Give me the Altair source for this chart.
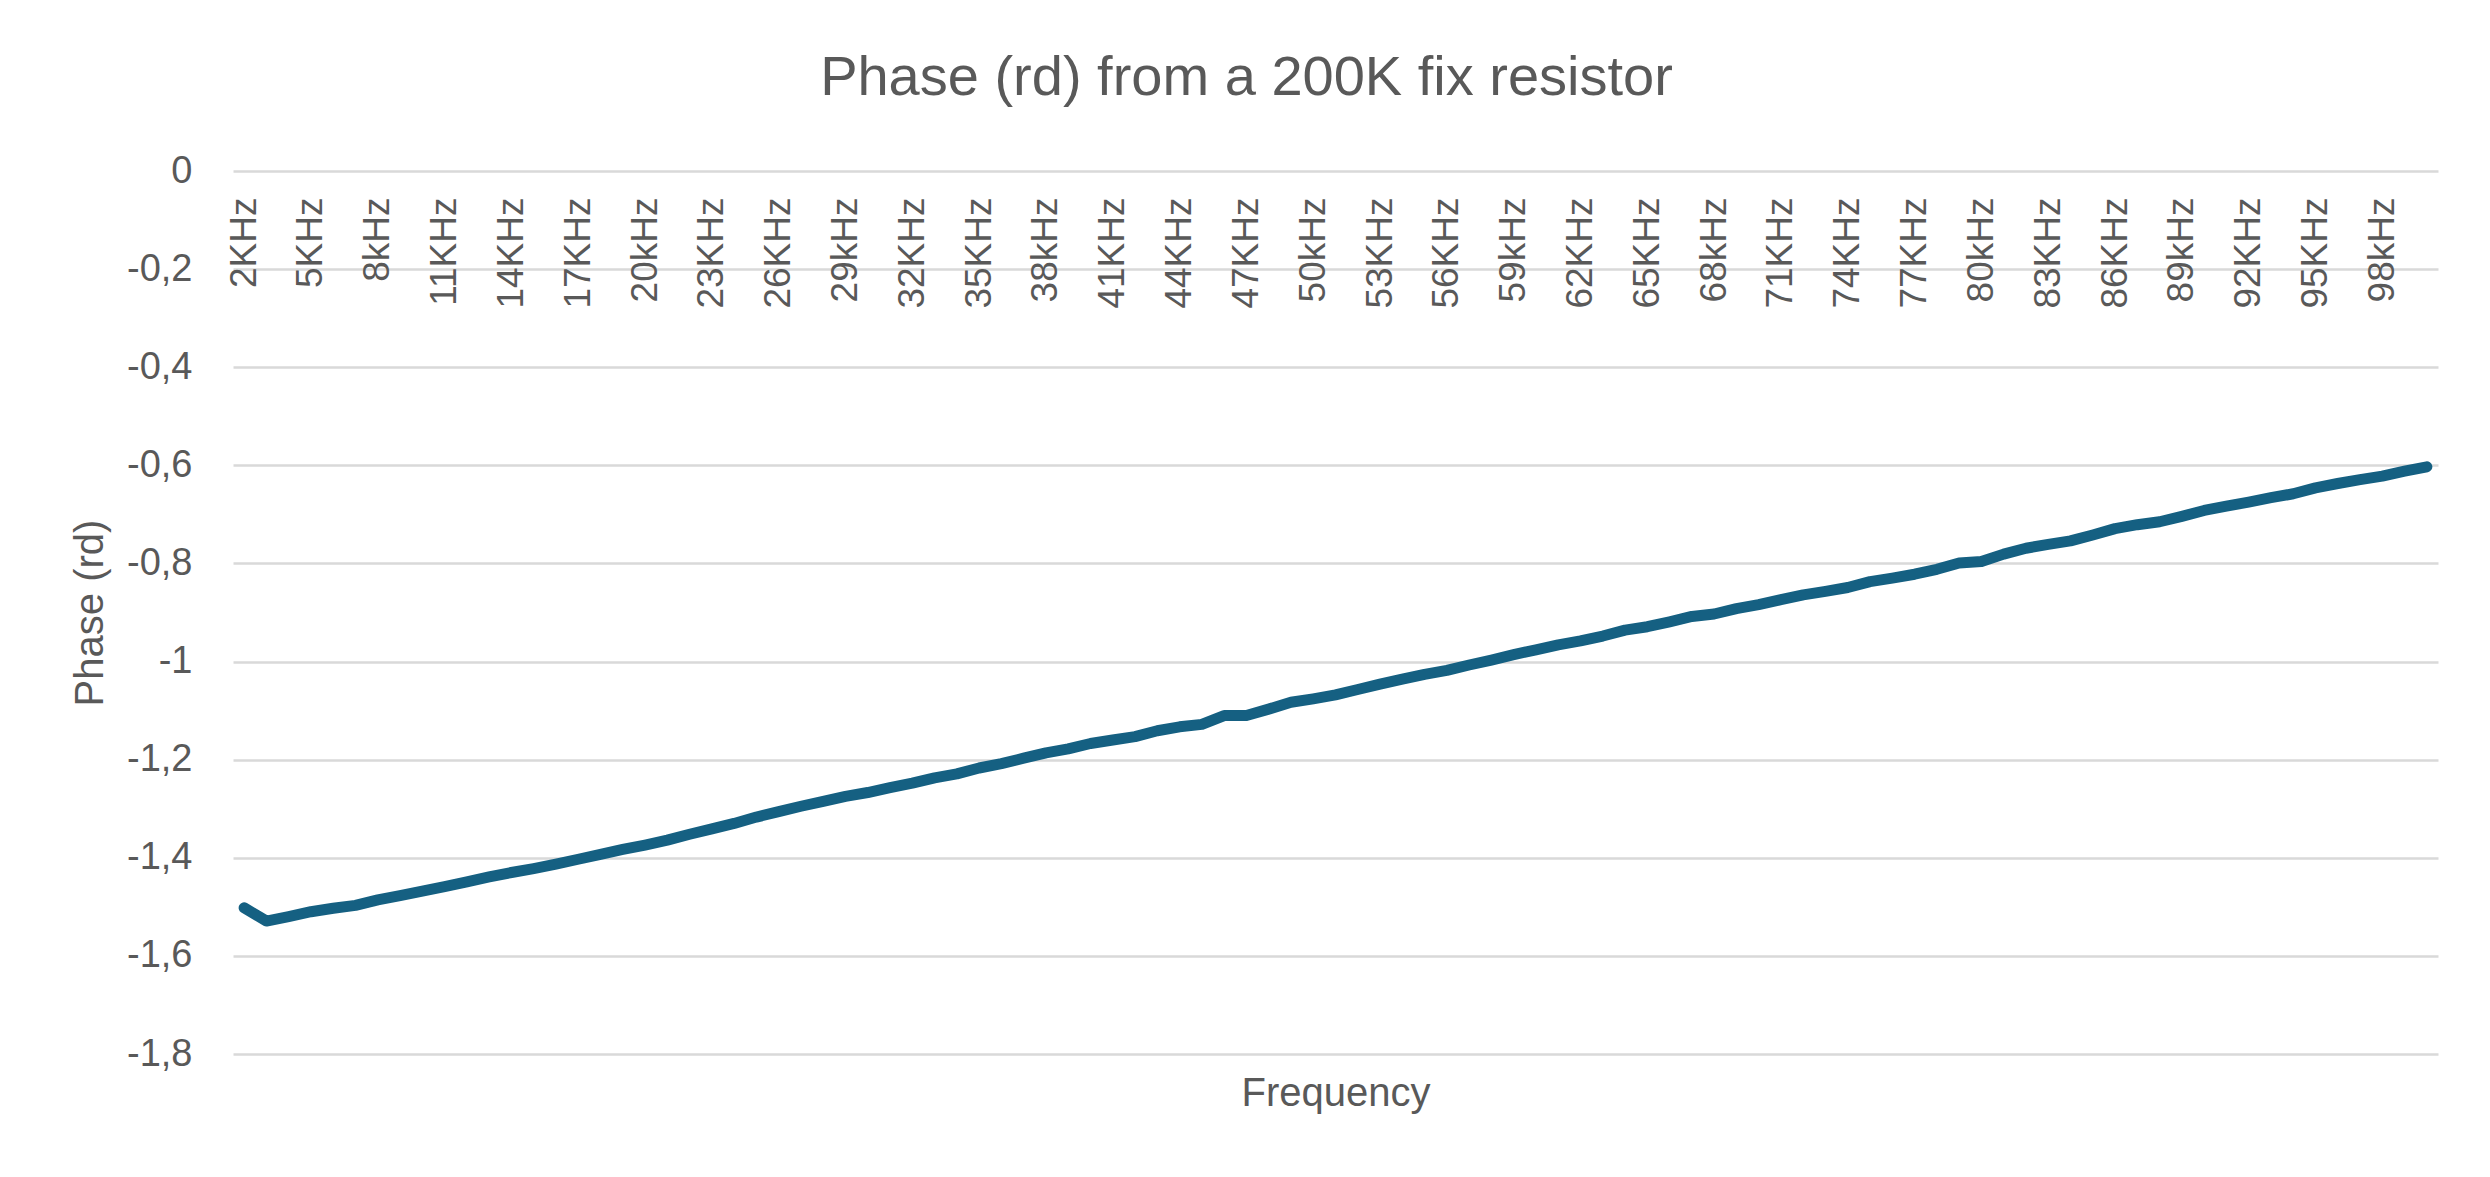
import altair as alt
import pandas as pd

# x categories (kHz)
freq_labels = [
    "2KHz", "3KHz", "4KHz", "5KHz", "6KHz", "7KHz", "8kHz", "9kHz", "10kHz", "11KHz",
    "12KHz", "13KHz", "14KHz", "15KHz", "16KHz", "17KHz", "18KHz", "19KHz", "20kHz", "21KHz",
    "22KHz", "23KHz", "24KHz", "25KHz", "26KHz", "27KHz", "28KHz", "29kHz", "30kHz", "31KHz",
    "32KHz", "33KHz", "34KHz", "35KHz", "36KHz", "37KHz", "38kHz", "39kHz", "40kHz", "41KHz",
    "42KHz", "43KHz", "44KHz", "45KHz", "46KHz", "47KHz", "48KHz", "49KHz", "50kHz", "51KHz",
    "52KHz", "53KHz", "54KHz", "55KHz", "56KHz", "57KHz", "58KHz", "59kHz", "60kHz", "61KHz",
    "62KHz", "63KHz", "64KHz", "65KHz", "66KHz", "67KHz", "68kHz", "69kHz", "70kHz", "71KHz",
    "72KHz", "73KHz", "74KHz", "75KHz", "76KHz", "77KHz", "78KHz", "79KHz", "80kHz", "81KHz",
    "82KHz", "83KHz", "84KHz", "85KHz", "86KHz", "87KHz", "88KHz", "89kHz", "90kHz", "91KHz",
    "92KHz", "93KHz", "94KHz", "95KHz", "96KHz", "97KHz", "98kHz", "99kHz", "100kHz",
]

# phase (rd)
phase_values = [
    -1.502, -1.529, -1.520, -1.510, -1.503, -1.497, -1.486, -1.477, -1.468, -1.459,
    -1.449, -1.439, -1.430, -1.422, -1.413, -1.403, -1.393, -1.383, -1.374, -1.364,
    -1.352, -1.341, -1.330, -1.317, -1.306, -1.295, -1.285, -1.275, -1.267, -1.257,
    -1.248, -1.237, -1.229, -1.217, -1.208, -1.197, -1.186, -1.178, -1.167, -1.160,
    -1.153, -1.141, -1.133, -1.128, -1.110, -1.110, -1.097, -1.083, -1.076, -1.068,
    -1.057, -1.046, -1.036, -1.026, -1.018, -1.007, -0.997, -0.986, -0.976, -0.966,
    -0.958, -0.948, -0.936, -0.929, -0.919, -0.908, -0.903, -0.892, -0.884, -0.874,
    -0.864, -0.857, -0.849, -0.837, -0.830, -0.822, -0.812, -0.799, -0.796, -0.781,
    -0.769, -0.761, -0.754, -0.742, -0.729, -0.721, -0.715, -0.704, -0.692, -0.683,
    -0.675, -0.666, -0.658, -0.646, -0.637, -0.629, -0.622, -0.612, -0.603,
]

# x tick labels that are displayed
shown_labels = [
    "2KHz", "5KHz", "8kHz", "11KHz", "14KHz", "17KHz", "20kHz", "23KHz", "26KHz", "29kHz",
    "32KHz", "35KHz", "38kHz", "41KHz", "44KHz", "47KHz", "50kHz", "53KHz", "56KHz", "59kHz",
    "62KHz", "65KHz", "68kHz", "71KHz", "74KHz", "77KHz", "80kHz", "83KHz", "86KHz", "89kHz",
    "92KHz", "95KHz", "98kHz",
]

y_ticks = [0, -0.2, -0.4, -0.6, -0.8, -1.0, -1.2, -1.4, -1.6, -1.8]

df = pd.DataFrame({"Frequency": freq_labels, "Phase": phase_values})

W, H = 2205, 883
FONT = "Liberation Sans"
TXT = "#595959"

chart = (
    alt.Chart(df)
    .mark_line(color="#156082", strokeWidth=11, strokeCap="round", strokeJoin="round")
    .encode(
        x=alt.X(
            "Frequency:N",
            sort=freq_labels,
            scale=alt.Scale(type="point", padding=0.5),
            axis=alt.Axis(
                values=shown_labels,
                orient="bottom",
                offset=-H,
                labelAngle=-90,
                labelPadding=26,
                labelFont=FONT,
                labelFontSize=37,
                labelColor=TXT,
                labelOverlap=False,
                ticks=False,
                domain=False,
                grid=False,
                title="Frequency",
                titleFont=FONT,
                titleFontSize=40,
                titleFontWeight="normal",
                titleColor=TXT,
                titleY=922,
                titleBaseline="middle",
            ),
        ),
        y=alt.Y(
            "Phase:Q",
            scale=alt.Scale(domain=[-1.8, 0], nice=False, zero=False),
            axis=alt.Axis(
                values=y_ticks,
                labelExpr="(datum.value < -0.0001 ? '-' : '') + replace(format(abs(datum.value), '.1~f'), '.', ',')",
                labelFont=FONT,
                labelFontSize=38,
                labelColor=TXT,
                labelPadding=41,
                ticks=False,
                domain=False,
                grid=True,
                gridColor="#d9d9d9",
                gridWidth=2.5,
                title="Phase (rd)",
                titleFont=FONT,
                titleFontSize=40,
                titleFontWeight="normal",
                titleColor=TXT,
                titleX=-143,
                titleBaseline="middle",
                titleAngle=-90,
            ),
        ),
    )
    .properties(
        width=W,
        height=H,
        autosize=alt.AutoSizeParams(type="none"),
        padding={"left": 225, "top": 163, "right": 40, "bottom": 100},
        background="white",
        title=alt.TitleParams(
            "Phase (rd) from a 200K fix resistor",
            font=FONT,
            fontSize=56,
            fontWeight="normal",
            color=TXT,
            anchor="middle",
            offset=45,
            dx=-89,
        ),
    )
    .configure_view(stroke=None)
)

chart.save("out.html", embed_options={"renderer": "svg", "actions": False})
